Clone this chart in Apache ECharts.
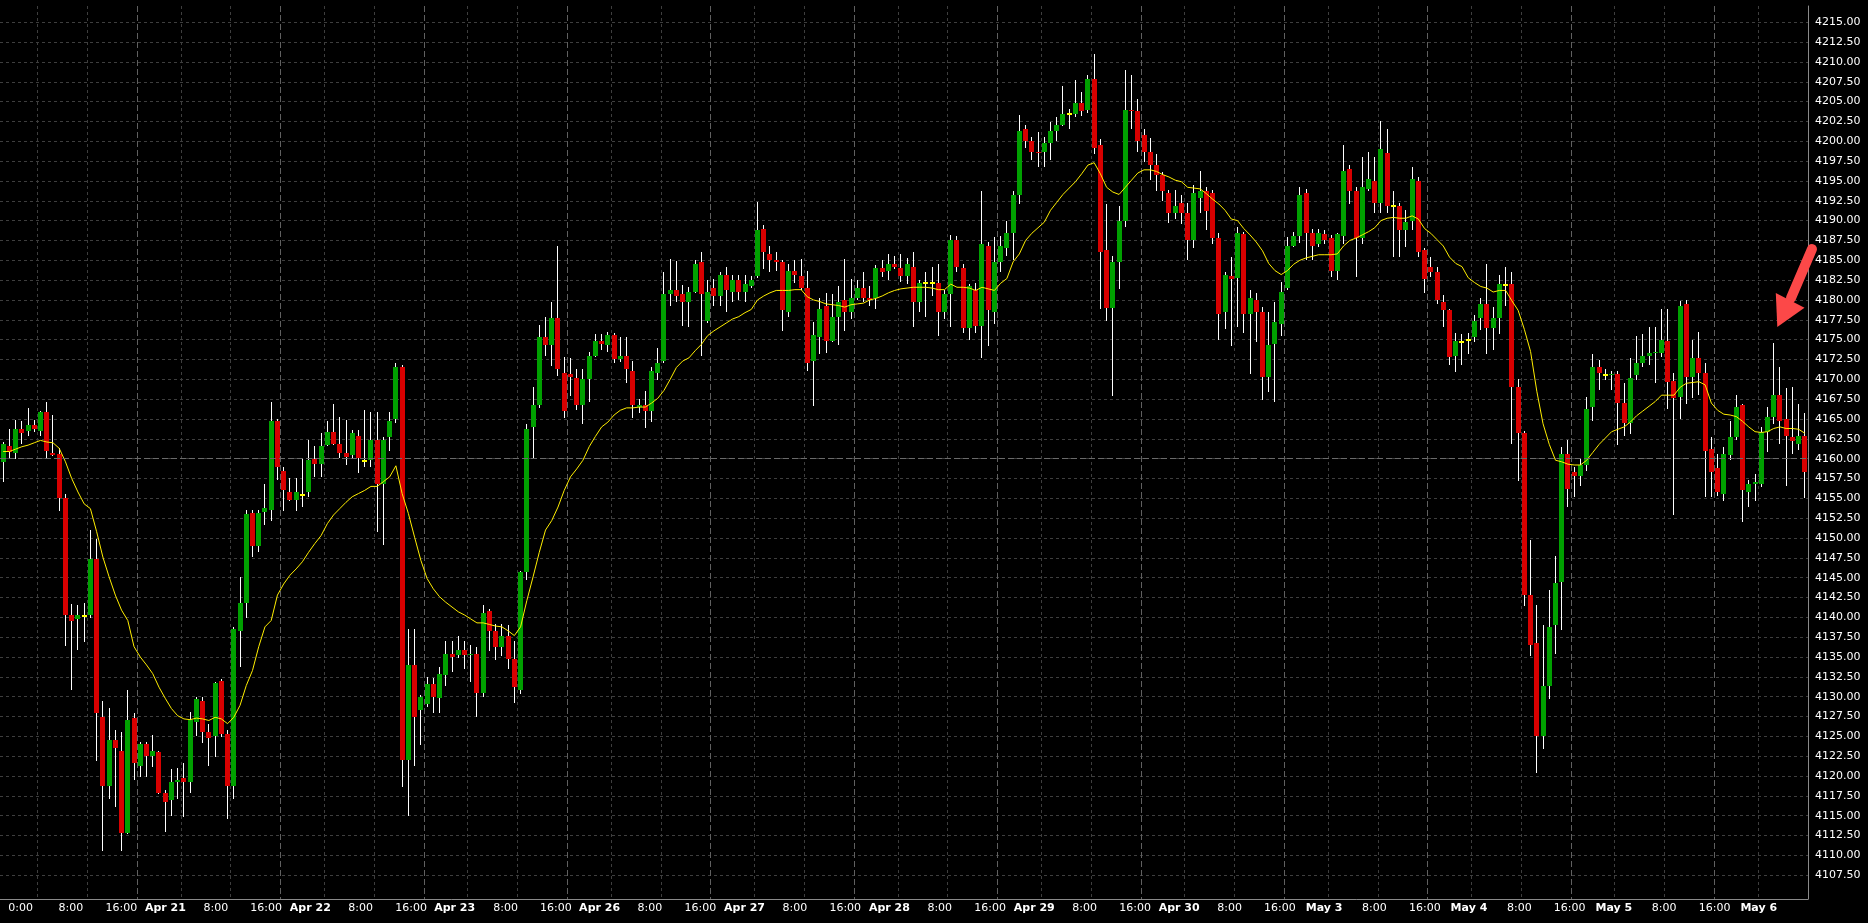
<!DOCTYPE html>
<html><head><meta charset="utf-8">
<script src="https://cdn.jsdelivr.net/npm/echarts@6/dist/echarts.min.js"></script>
<style>html,body{margin:0;padding:0;background:#000;}#c{width:1868px;height:923px;}</style>
</head><body><div id="c"></div>
<script>
// ---- time axis: 23 hourly bars per session (0:00 .. 22:00), view starts Apr 19 17:00
const sessionDays = ['Apr 19','Apr 20','Apr 21','Apr 22','Apr 23','Apr 26','Apr 27','Apr 28','Apr 29','Apr 30','May 3','May 4','May 5','May 6'];
const barsPerSession = 23;
const firstBarOffset = 17;
const barCount = 290;
const labelHours = [0, 8, 16];
const yTicks = [4107.5,4110,4112.5,4115,4117.5,4120,4122.5,4125,4127.5,4130,4132.5,4135,4137.5,4140,4142.5,4145,4147.5,4150,4152.5,4155,4157.5,4160,4162.5,4165,4167.5,4170,4172.5,4175,4177.5,4180,4182.5,4185,4187.5,4190,4192.5,4195,4197.5,4200,4202.5,4205,4207.5,4210,4212.5,4215];
const refLevel = 4160;

// ---- OHLC
const opens = [4159.6,4161.6,4160.7,4163.7,4163.5,4164.2,4163.5,4165.9,4160.7,4160.6,4155.0,4140.3,4139.8,4140.2,4140.3,4147.4,4127.5,4118.7,4124.5,4123.2,
4112.8,4127.3,4121.3,4124.0,4122.5,4123.0,4117.9,4117.0,4119.2,4119.7,4119.2,4126.8,4129.4,4125.5,4125.0,4132.0,4125.3,4118.7,4138.3,4141.8,
4153.2,4149.0,4153.3,4153.5,4164.7,4158.5,4155.8,4154.8,4155.4,4155.8,4160.0,4159.3,4161.7,4163.4,4161.9,4160.7,4160.5,4162.9,4159.7,4159.8,
4162.4,4156.8,4162.7,4165.0,4171.6,4122.0,4134.0,4128.3,4129.1,4131.6,4129.8,4132.7,4135.4,4135.2,4135.9,4135.2,4135.4,4130.5,4140.8,4138.3,
4136.3,4137.7,4134.7,4130.9,4145.7,4164.0,4166.7,4175.3,4174.3,4177.7,4170.8,4170.7,4170.2,4166.7,4170.0,4173.0,4174.8,4174.3,4175.6,4172.5,
4173.0,4171.0,4166.5,4166.7,4166.0,4170.8,4172.3,4180.7,4181.2,4180.7,4179.8,4181.0,4184.8,4177.4,4181.5,4180.5,4183.2,4181.0,4182.5,4181.0,
4181.7,4183.0,4189.0,4185.8,4185.0,4184.8,4178.5,4183.7,4183.0,4181.5,4172.3,4175.3,4179.2,4174.8,4177.9,4180.0,4178.5,4180.2,4181.5,4180.2,
4180.2,4184.0,4183.7,4184.5,4184.0,4183.0,4184.2,4179.8,4182.1,4182.1,4182.2,4178.5,4180.7,4187.5,4184.0,4176.5,4181.2,4176.7,4186.8,4178.5,
4184.8,4186.5,4188.5,4193.2,4201.5,4200.0,4198.7,4198.7,4199.8,4201.3,4202.0,4203.5,4203.5,4204.8,4204.0,4207.9,4199.5,4186.3,4179.0,4184.8,
4190.0,4204.0,4203.8,4200.8,4198.7,4197.0,4195.7,4193.5,4190.9,4192.2,4190.9,4187.5,4192.9,4193.7,4193.5,4187.8,4178.5,4183.0,4182.8,4188.3,
4178.2,4180.0,4178.5,4170.3,4174.5,4177.0,4181.5,4186.8,4188.0,4193.5,4188.5,4187.0,4188.3,4187.8,4183.7,4188.0,4196.5,4193.7,4187.8,4194.0,
4195.0,4192.2,4198.5,4191.8,4191.9,4188.8,4190.0,4195.0,4186.3,4184.2,4183.5,4179.7,4178.7,4173.0,4174.7,4175.0,4175.3,4177.7,4179.5,4176.5,
4177.7,4181.9,4182.0,4169.0,4163.2,4142.8,4136.8,4125.0,4131.4,4139.0,4144.5,4160.6,4158.3,4157.8,4159.2,4166.5,4171.5,4170.6,4170.5,4170.7,
4167.0,4164.5,4170.5,4172.0,4173.0,4173.3,4173.3,4174.8,4169.8,4167.8,4179.5,4170.3,4172.7,4170.8,4161.2,4158.8,4155.5,4160.5,4162.7,4166.7,
4155.8,4156.8,4156.8,4163.4,4165.2,4168.0,4165.0,4162.7,4161.9,4162.9];
const highs = [4162.1,4163.7,4164.9,4164.7,4166.4,4164.9,4166.0,4167.2,4165.5,4161.4,4155.5,4141.7,4141.5,4141.8,4151.0,4149.9,4129.4,4128.6,4125.8,4125.5,
4130.9,4128.0,4124.3,4124.3,4125.2,4123.2,4118.2,4120.9,4121.0,4121.6,4128.1,4130.0,4130.0,4126.6,4131.9,4132.2,4125.8,4138.8,4145.1,4153.5,
4153.5,4153.5,4156.8,4167.2,4165.0,4158.9,4157.6,4157.6,4160.1,4162.4,4161.6,4163.2,4164.7,4166.9,4165.2,4164.9,4163.6,4163.6,4166.1,4165.9,
4165.9,4162.7,4165.9,4172.0,4171.8,4138.5,4138.5,4130.2,4132.5,4132.3,4133.7,4137.0,4137.0,4137.7,4137.0,4136.5,4136.3,4141.5,4141.1,4139.2,
4139.2,4139.0,4137.0,4145.9,4164.4,4169.0,4176.9,4177.9,4179.7,4186.8,4172.8,4172.7,4171.3,4171.3,4173.5,4175.7,4175.7,4176.0,4175.8,4175.3,
4175.3,4172.3,4167.5,4168.5,4171.6,4174.0,4183.5,4185.2,4184.9,4181.9,4181.6,4185.0,4186.0,4182.5,4182.6,4183.5,4184.2,4183.2,4183.2,4183.2,
4183.0,4192.4,4189.5,4186.8,4186.0,4185.0,4184.5,4185.0,4185.2,4183.7,4177.2,4180.2,4180.9,4180.7,4181.7,4185.2,4182.6,4182.5,4183.5,4181.7,
4184.4,4185.0,4185.8,4185.5,4185.8,4185.3,4186.1,4182.5,4183.5,4184.1,4184.5,4181.3,4188.2,4188.1,4184.5,4182.0,4182.1,4193.7,4187.3,4187.9,
4188.0,4190.0,4193.7,4203.3,4202.0,4200.5,4201.2,4200.6,4202.4,4203.0,4207.0,4204.1,4207.7,4206.2,4208.4,4211.0,4200.3,4192.1,4185.5,4191.9,
4209.0,4208.4,4205.3,4201.6,4200.4,4198.4,4196.1,4193.9,4193.8,4193.2,4192.2,4194.5,4196.2,4194.2,4193.8,4188.4,4183.5,4185.4,4189.2,4188.6,
4181.2,4180.9,4179.1,4178.5,4179.8,4182.3,4187.9,4188.6,4194.2,4194.0,4189.0,4189.0,4188.8,4188.2,4188.5,4199.5,4197.0,4194.3,4198.0,4198.7,
4198.0,4202.5,4201.5,4193.7,4192.2,4191.3,4196.7,4195.5,4186.5,4185.4,4184.2,4180.6,4178.9,4175.8,4175.7,4175.8,4178.1,4180.2,4184.5,4179.1,
4183.1,4184.2,4183.5,4170.1,4163.5,4149.7,4141.5,4139.0,4143.5,4147.7,4161.5,4162.4,4158.9,4160.0,4167.8,4173.2,4172.4,4171.3,4171.1,4171.1,
4169.5,4172.7,4175.5,4175.7,4176.6,4176.6,4178.9,4178.9,4170.8,4179.9,4180.0,4174.9,4176.0,4172.0,4162.7,4160.6,4161.5,4164.8,4168.0,4166.9,
4157.3,4158.1,4164.0,4166.5,4174.6,4171.6,4168.9,4169.0,4166.9,4165.7];
const lows = [4157.1,4160.0,4160.0,4161.9,4162.8,4163.3,4162.9,4160.0,4160.3,4153.4,4136.4,4130.8,4135.9,4136.9,4139.9,4121.9,4110.6,4117.1,4116.1,4110.5,
4112.7,4119.5,4119.9,4119.9,4121.1,4117.7,4112.9,4115.0,4117.1,4114.8,4117.8,4125.0,4124.2,4121.3,4122.4,4124.9,4114.6,4117.1,4133.8,4139.9,
4147.6,4148.2,4151.6,4152.2,4157.3,4153.4,4154.7,4153.4,4153.9,4155.2,4157.7,4157.7,4161.6,4161.7,4160.1,4159.2,4160.0,4158.2,4158.9,4158.9,
4150.8,4149.1,4161.0,4164.5,4118.6,4115.0,4121.3,4123.9,4128.7,4127.9,4127.9,4131.4,4133.1,4134.9,4133.5,4131.9,4127.4,4130.0,4135.8,4134.6,
4135.1,4133.5,4129.2,4130.3,4144.7,4160.0,4166.4,4172.9,4171.7,4170.4,4165.1,4167.9,4166.1,4164.4,4167.2,4172.8,4173.7,4173.5,4172.0,4172.2,
4169.5,4165.1,4165.8,4163.8,4164.6,4169.9,4172.0,4179.2,4179.7,4176.7,4176.6,4180.9,4172.9,4177.1,4179.2,4179.2,4178.5,4179.8,4180.0,4179.8,
4181.5,4182.8,4183.9,4183.5,4183.7,4176.1,4177.8,4182.2,4181.2,4171.1,4166.6,4173.2,4173.3,4174.7,4174.3,4176.1,4177.6,4180.0,4179.8,4179.3,
4178.9,4182.9,4182.5,4183.9,4182.3,4182.0,4176.6,4178.5,4177.9,4180.5,4175.5,4177.6,4176.6,4183.5,4175.8,4175.0,4175.8,4172.7,4174.2,4177.0,
4183.5,4185.5,4185.0,4192.1,4199.2,4197.6,4196.7,4196.7,4197.7,4200.0,4201.9,4201.6,4203.0,4203.2,4203.6,4198.4,4178.9,4177.4,4167.9,4181.4,
4189.2,4201.6,4198.7,4197.4,4195.1,4193.7,4192.5,4189.7,4190.2,4189.6,4185.0,4186.6,4191.0,4188.8,4187.0,4174.9,4176.3,4174.2,4176.6,4175.8,
4170.7,4174.7,4167.4,4168.4,4167.1,4175.5,4181.2,4186.7,4187.2,4185.0,4185.0,4186.7,4187.1,4182.9,4182.5,4187.1,4192.1,4182.9,4187.1,4193.7,
4190.9,4190.9,4190.9,4185.4,4185.4,4186.7,4188.8,4185.4,4180.9,4182.9,4179.5,4176.6,4171.8,4170.9,4171.8,4173.2,4174.7,4176.2,4173.2,4173.7,
4175.7,4179.3,4161.9,4157.2,4141.4,4135.1,4120.4,4123.4,4129.7,4135.4,4138.4,4153.9,4155.2,4156.6,4158.5,4164.8,4168.6,4169.9,4168.6,4161.7,
4162.8,4163.1,4169.9,4171.6,4171.8,4169.5,4172.8,4166.3,4152.9,4165.0,4166.9,4167.6,4168.0,4155.2,4155.2,4155.3,4154.7,4159.8,4162.3,4152.0,
4153.9,4154.7,4156.4,4160.8,4164.4,4161.9,4156.6,4160.6,4161.1,4155.1];
const closes = [4161.9,4160.8,4163.7,4163.2,4164.2,4163.7,4165.9,4161.0,4160.5,4155.0,4140.3,4139.5,4140.3,4140.2,4147.4,4127.9,4118.7,4124.5,4123.5,4112.8,
4127.0,4121.6,4124.0,4122.5,4123.2,4117.8,4116.7,4119.2,4119.5,4119.2,4127.1,4129.7,4125.5,4124.8,4131.7,4125.3,4118.7,4138.5,4141.8,4153.0,
4149.0,4153.2,4153.8,4164.7,4158.9,4156.0,4154.8,4155.8,4155.4,4159.8,4159.3,4161.6,4163.4,4161.9,4160.7,4160.2,4163.2,4160.1,4159.7,4162.4,
4156.8,4162.4,4164.7,4171.6,4122.0,4134.0,4127.5,4129.9,4131.6,4130.0,4132.9,4135.4,4135.0,4135.9,4135.2,4135.4,4130.5,4140.5,4138.3,4136.3,
4137.7,4134.7,4131.2,4145.7,4163.7,4166.7,4175.3,4174.3,4177.7,4171.3,4166.0,4170.3,4166.7,4170.0,4173.0,4174.8,4174.5,4175.6,4172.5,4173.0,
4171.3,4166.7,4166.7,4166.0,4171.0,4172.0,4180.7,4181.2,4180.5,4179.8,4181.0,4184.5,4180.7,4181.0,4180.5,4183.2,4181.2,4182.5,4181.0,4182.0,
4182.5,4188.8,4186.0,4185.0,4184.8,4178.7,4183.7,4183.2,4181.5,4172.0,4175.6,4178.9,4174.8,4177.9,4179.7,4178.5,4180.2,4181.5,4180.2,4180.0,
4184.0,4183.5,4184.5,4184.2,4183.0,4184.5,4179.8,4182.2,4182.1,4182.1,4178.5,4180.7,4187.5,4184.2,4176.5,4181.7,4176.7,4187.0,4178.7,4184.8,
4186.8,4188.5,4193.2,4201.3,4200.0,4198.7,4198.5,4199.8,4201.3,4202.0,4203.5,4203.5,4204.8,4203.8,4207.9,4199.2,4186.0,4179.0,4184.8,4190.0,
4204.0,4203.8,4200.0,4198.7,4197.0,4195.7,4193.7,4190.9,4191.9,4190.9,4187.5,4193.5,4193.7,4191.2,4187.8,4178.2,4183.2,4182.6,4188.5,4178.2,
4180.2,4178.5,4170.3,4174.3,4177.2,4181.0,4186.8,4188.0,4193.2,4188.5,4186.8,4188.5,4187.5,4183.7,4188.3,4196.2,4193.7,4187.8,4194.2,4195.2,
4192.2,4199.0,4191.9,4191.8,4188.8,4189.8,4195.2,4186.0,4182.7,4183.5,4180.0,4178.7,4172.8,4174.8,4174.7,4175.0,4177.4,4179.5,4176.5,4177.7,
4182.0,4181.9,4169.0,4163.2,4142.8,4136.5,4125.0,4131.4,4138.8,4144.3,4160.6,4156.2,4157.8,4159.2,4166.2,4171.5,4170.8,4170.6,4170.7,4167.0,
4164.5,4170.2,4172.0,4173.0,4173.3,4173.5,4175.0,4169.6,4167.6,4179.2,4170.3,4172.7,4170.8,4161.0,4158.3,4155.8,4160.6,4162.7,4166.5,4156.0,
4156.8,4157.0,4163.4,4165.2,4168.0,4164.7,4162.9,4162.2,4162.9,4158.3];
// yellow moving-average line
const maValues = [4160.9,4160.9,4161.2,4161.5,4161.7,4162.0,4162.3,4162.1,4162.0,4161.3,4159.6,4157.5,4155.8,4154.3,4153.7,4150.8,4147.6,4145.1,4142.8,4140.9,
4139.6,4136.3,4135.0,4134.0,4132.9,4131.2,4129.8,4128.5,4127.6,4127.2,4127.1,4127.3,4127.2,4127.0,4127.4,4127.2,4126.6,4127.4,4128.9,4131.4,
4133.3,4136.3,4138.8,4139.6,4142.8,4144.2,4145.3,4146.1,4147.0,4148.2,4149.3,4150.3,4151.8,4152.9,4153.7,4154.5,4155.2,4155.6,4156.0,4156.5,
4156.5,4157.1,4157.7,4159.1,4155.6,4153.1,4150.1,4147.2,4144.9,4143.6,4142.6,4141.9,4141.3,4140.7,4140.3,4139.8,4139.3,4139.3,4139.1,4138.9,
4138.8,4138.3,4137.7,4138.8,4142.1,4145.1,4148.2,4151.0,4152.2,4153.9,4156.0,4157.7,4158.7,4159.8,4161.5,4162.8,4164.0,4164.6,4165.5,4166.1,
4166.4,4166.4,4166.5,4166.5,4167.0,4167.6,4168.6,4170.0,4171.5,4172.3,4172.7,4173.6,4174.4,4175.5,4176.1,4176.6,4177.1,4177.6,4177.9,4178.4,
4178.8,4180.0,4180.5,4180.9,4181.2,4181.2,4181.2,4181.3,4181.3,4180.4,4180.0,4179.8,4179.5,4179.4,4179.3,4179.1,4179.4,4179.5,4179.6,4180.0,
4180.2,4180.5,4180.9,4181.2,4181.4,4181.5,4181.6,4181.6,4181.6,4181.5,4181.3,4181.3,4182.0,4181.6,4181.6,4181.5,4181.2,4181.6,4181.4,4181.2,
4182.1,4182.7,4184.8,4185.8,4187.5,4188.4,4189.1,4189.8,4191.3,4192.3,4193.3,4194.1,4194.9,4195.9,4197.0,4197.3,4195.9,4194.2,4193.6,4193.3,
4194.2,4195.1,4196.0,4196.4,4196.4,4196.2,4195.8,4195.5,4195.1,4194.9,4194.2,4194.1,4194.0,4193.4,4192.7,4192.1,4191.3,4190.2,4190.0,4189.0,
4188.2,4187.3,4186.2,4184.6,4183.7,4183.2,4183.7,4184.5,4185.0,4185.3,4185.5,4185.7,4185.7,4185.7,4185.8,4186.8,4187.5,4187.8,4188.2,4188.6,
4189.1,4190.0,4190.3,4190.4,4190.3,4190.3,4190.6,4190.2,4189.0,4188.4,4187.6,4186.8,4185.4,4184.6,4184.2,4182.8,4182.2,4181.7,4181.5,4181.0,
4181.2,4181.2,4179.9,4178.7,4176.3,4173.5,4168.5,4164.4,4161.8,4159.8,4159.6,4159.3,4159.2,4159.2,4159.8,4160.8,4161.8,4162.6,4163.4,4163.7,
4164.0,4164.6,4165.4,4166.0,4166.6,4167.2,4168.0,4168.0,4168.0,4169.0,4169.5,4169.6,4169.7,4169.3,4167.0,4166.1,4165.6,4165.5,4165.3,4164.7,
4164.0,4163.4,4163.3,4163.4,4163.8,4164.0,4163.8,4163.8,4163.7,4163.2];

// ---- build categories
const barDay = [], barHour = [], categories = [];
for (let i = 0; i < barCount; i++) {
  const a = firstBarOffset + i;
  const d = sessionDays[Math.floor(a / barsPerSession)];
  const h = a % barsPerSession;
  barDay.push(d); barHour.push(h); categories.push(d + ' ' + h + ':00');
}
const firstMidnight = barHour.indexOf(0);
const isLabelled = i => labelHours.indexOf(barHour[i]) >= 0;
const candleData = categories.map((c, i) => [i, opens[i], closes[i], lows[i], highs[i]]);

const FONT = 'DejaVu Sans';
// label placement: the platform draws time labels a little left of their grid line,
// drifting from ~17px at the left edge to ~0px at the right edge
function labelPad(idx) {
  const off = -17 + 0.063 * (idx - 6) - 3.1;   // shift from band centre (px)
  return Math.max(0, Math.round(-2 * off));
}
const rich = {};
for (let p = 0; p <= 50; p++) {
  rich['t' + p] = {color: '#ffffff', fontFamily: FONT, fontSize: 11, padding: [0, p, 0, 0]};
  rich['d' + p] = {color: '#ffffff', fontFamily: FONT, fontSize: 11, fontWeight: 'bold', padding: [0, p, 0, 0]};
}

function renderCandle(params, api) {
  const i = api.value(0), o = api.value(1), c = api.value(2), l = api.value(3), h = api.value(4);
  const pO = api.coord([i, o]), pC = api.coord([i, c]), pL = api.coord([i, l]), pH = api.coord([i, h]);
  const bw = 5;
  const bx = Math.round(pO[0] - bw / 2);
  const xw = bx + 2.5;
  const top = Math.round(Math.min(pO[1], pC[1])), bot = Math.round(Math.max(pO[1], pC[1]));
  const children = [{type: 'line', shape: {x1: xw, y1: Math.round(pH[1]), x2: xw, y2: Math.round(pL[1])}, style: {stroke: '#ffffff', lineWidth: 1}}];
  if (o === c) {
    children.push({type: 'rect', shape: {x: bx, y: top - 1, width: bw, height: 2}, style: {fill: '#ffff00'}});
  } else {
    children.push({type: 'rect', shape: {x: bx, y: top, width: bw, height: Math.max(1, bot - top)}, style: {fill: c > o ? '#00a000' : '#d80000'}});
  }
  return {type: 'group', children};
}

const chart = echarts.init(document.getElementById('c'), null, {renderer: 'canvas'});
chart.setOption({
  backgroundColor: '#000000',
  animation: false,
  grid: {left: 0, right: 60, top: 6, bottom: 24, containLabel: false},
  xAxis: [{
    type: 'category', data: categories, boundaryGap: true,
    axisLine: {show: true, lineStyle: {color: '#8a8a8a', width: 1}},
    axisTick: {show: false},
    axisLabel: {
      interval: (idx) => isLabelled(idx), margin: 4, color: '#ffffff', fontFamily: FONT, fontSize: 11,
      formatter: (v, idx) => {
        const h = barHour[idx];
        const p = labelPad(idx);
        if (h === 0) return idx === firstMidnight ? '{t' + p + '|0:00}' : '{d' + p + '|' + barDay[idx] + '}';
        return '{t' + p + '|' + h + ':00}';
      },
      rich: rich
    },
    splitLine: {show: true, interval: (idx) => barHour[idx] === 0 || barHour[idx] === 8, lineStyle: {color: '#3e3e3e', width: 1, type: [3, 3]}}
  }, {
    type: 'category', data: categories, boundaryGap: true, position: 'top',
    axisLine: {show: false}, axisTick: {show: false}, axisLabel: {show: false},
    splitLine: {show: true, interval: (idx) => barHour[idx] === 16, lineStyle: {color: '#606060', width: 1, type: [6, 3]}}
  }],
  yAxis: {
    type: 'value', position: 'right', min: 4104.5, max: 4217.05, scale: true,
    axisLine: {show: true, lineStyle: {color: '#8a8a8a', width: 1}},
    axisTick: {show: false, customValues: yTicks},
    axisLabel: {customValues: yTicks, formatter: v => v.toFixed(2), color: '#ffffff', fontFamily: FONT, fontSize: 11, margin: 7, align: 'left'},
    splitLine: {show: true, lineStyle: {color: '#3e3e3e', width: 1, type: [3, 3]}}
  },
  series: [{
    type: 'custom', name: 'US500 H1', xAxisIndex: 0, yAxisIndex: 0,
    renderItem: renderCandle, data: candleData, clip: true,
    encode: {x: 0, y: [1, 2, 3, 4]}, z: 3
  }, {
    type: 'line', name: 'MA', xAxisIndex: 0, data: maValues, symbol: 'none', smooth: false,
    lineStyle: {color: '#ffee00', width: 1}, z: 4,
    markLine: {silent: true, symbol: 'none', label: {show: false},
      lineStyle: {color: '#6a6a6a', width: 1, type: [6, 3]}, data: [{yAxis: refLevel}]}
  }],
  graphic: [
    {type: 'line', shape: {x1: 1812, y1: 249, x2: 1791, y2: 298}, style: {stroke: '#fc4848', lineWidth: 10, lineCap: 'round'}, z: 100},
    {type: 'polygon', shape: {points: [[1777.3, 327], [1775.8, 293], [1804.5, 307.8]]}, style: {fill: '#fc4848'}, z: 100}
  ]
});
</script></body></html>
